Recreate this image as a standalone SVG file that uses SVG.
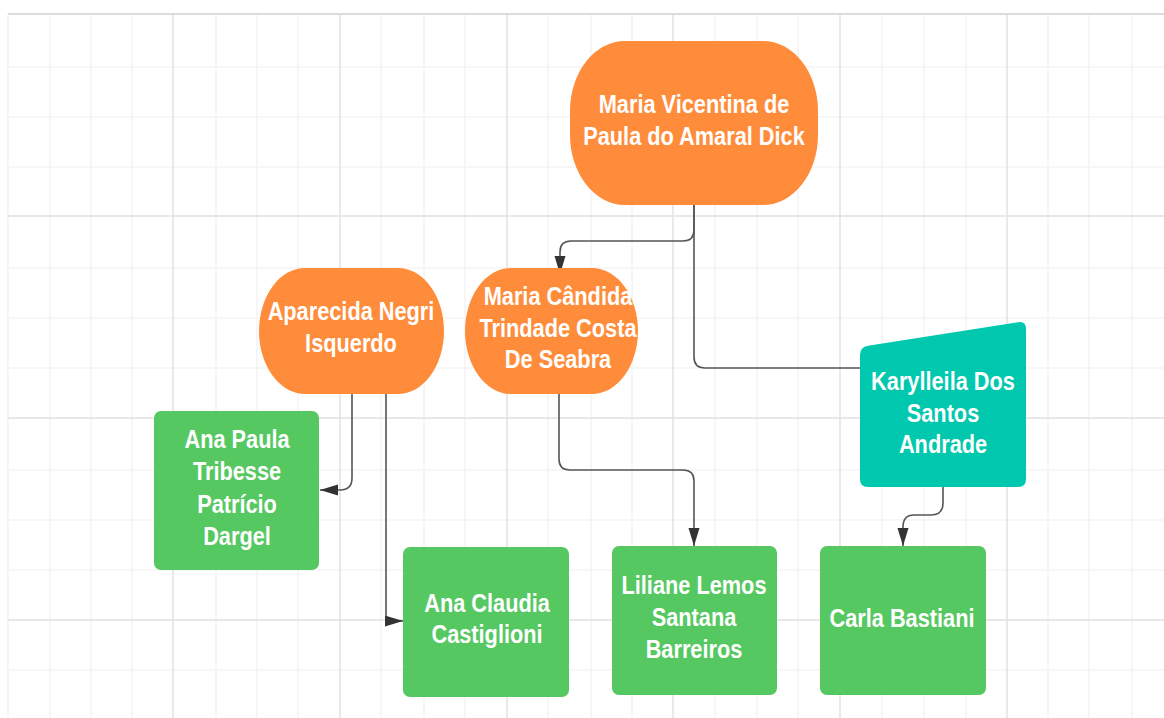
<svg xmlns="http://www.w3.org/2000/svg" width="1164" height="718" viewBox="0 0 1164 718">
<defs>
<style>
.minor{stroke:#f0f0f0;stroke-width:1.2}
.major{stroke:#e0e0e0;stroke-width:1.4}
.orange{fill:#FF8C3A}
.green{fill:#55C861}
.teal{fill:#00C8AE}
.conn{fill:none;stroke:#555;stroke-width:1.6}
.lbl{font-family:"Liberation Sans",Arial,sans-serif;font-weight:bold;font-size:25px;fill:#ffffff;text-anchor:middle}
</style>
<marker id="arrow" markerUnits="userSpaceOnUse" markerWidth="18" markerHeight="12" refX="18" refY="5.5" orient="auto">
<path d="M0,0 L18,5.5 L0,11 Z" fill="#333"/>
</marker>
</defs>
<rect x="0" y="0" width="1164" height="718" fill="#ffffff"/>
<g id="grid">
<g class="minor">
<line x1="8" y1="14" x2="8" y2="718"/>
<line x1="50" y1="14" x2="50" y2="718"/>
<line x1="91" y1="14" x2="91" y2="718"/>
<line x1="132" y1="14" x2="132" y2="718"/>
<line x1="216" y1="14" x2="216" y2="718"/>
<line x1="257" y1="14" x2="257" y2="718"/>
<line x1="298" y1="14" x2="298" y2="718"/>
<line x1="381" y1="14" x2="381" y2="718"/>
<line x1="424" y1="14" x2="424" y2="718"/>
<line x1="465" y1="14" x2="465" y2="718"/>
<line x1="548" y1="14" x2="548" y2="718"/>
<line x1="591" y1="14" x2="591" y2="718"/>
<line x1="632" y1="14" x2="632" y2="718"/>
<line x1="715" y1="14" x2="715" y2="718"/>
<line x1="757" y1="14" x2="757" y2="718"/>
<line x1="798" y1="14" x2="798" y2="718"/>
<line x1="882" y1="14" x2="882" y2="718"/>
<line x1="924" y1="14" x2="924" y2="718"/>
<line x1="966" y1="14" x2="966" y2="718"/>
<line x1="1048" y1="14" x2="1048" y2="718"/>
<line x1="1089" y1="14" x2="1089" y2="718"/>
<line x1="1132" y1="14" x2="1132" y2="718"/>
<line x1="8" y1="67" x2="1164" y2="67"/>
<line x1="8" y1="117" x2="1164" y2="117"/>
<line x1="8" y1="167" x2="1164" y2="167"/>
<line x1="8" y1="268" x2="1164" y2="268"/>
<line x1="8" y1="318" x2="1164" y2="318"/>
<line x1="8" y1="368" x2="1164" y2="368"/>
<line x1="8" y1="470" x2="1164" y2="470"/>
<line x1="8" y1="520" x2="1164" y2="520"/>
<line x1="8" y1="570" x2="1164" y2="570"/>
<line x1="8" y1="670" x2="1164" y2="670"/>
</g>
<g class="major">
<line x1="173" y1="14" x2="173" y2="718"/>
<line x1="340" y1="14" x2="340" y2="718"/>
<line x1="507" y1="14" x2="507" y2="718"/>
<line x1="673" y1="14" x2="673" y2="718"/>
<line x1="840" y1="14" x2="840" y2="718"/>
<line x1="1007" y1="14" x2="1007" y2="718"/>
<line x1="8" y1="216" x2="1164" y2="216"/>
<line x1="8" y1="418" x2="1164" y2="418"/>
<line x1="8" y1="620" x2="1164" y2="620"/>
</g>
<line x1="8" y1="14" x2="1164" y2="14" stroke="#dcdcdc" stroke-width="2"/>
</g>
<g id="connectors">
<path class="conn" d="M694,205 V230 Q694,241 683,241 H571 Q560,241 560,252 V274" marker-end="url(#arrow)"/>
<path class="conn" d="M694,205 V357 Q694,368 705,368 H860"/>
<path class="conn" d="M352,394 V478 Q352,490 340,490 H320" marker-end="url(#arrow)"/>
<path class="conn" d="M386,394 V621 H403" marker-end="url(#arrow)"/>
<path class="conn" d="M559,394 V459 Q559,470 570,470 H683 Q694,470 694,481 V546" marker-end="url(#arrow)"/>
<path class="conn" d="M943,487 V503 Q943,515 931,515 H914 Q903,515 903,527 V546" marker-end="url(#arrow)"/>
</g>
<g id="node-vicentina">
<rect class="orange" x="570" y="41" width="248" height="164" rx="55" ry="70"/>
<text class="lbl" transform="translate(694 0) scale(0.87 1)"><tspan x="0" y="113">Maria Vicentina de</tspan><tspan x="0" y="145">Paula do Amaral Dick</tspan></text>
</g>
<g id="node-aparecida">
<rect class="orange" x="259" y="268" width="185" height="126" rx="46" ry="63"/>
<text class="lbl" transform="translate(351 0) scale(0.87 1)"><tspan x="0" y="320">Aparecida Negri</tspan><tspan x="0" y="352">Isquerdo</tspan></text>
</g>
<g id="node-candida">
<rect class="orange" x="465" y="268" width="173" height="126" rx="46" ry="63"/>
<text class="lbl" transform="translate(558 0) scale(0.87 1)"><tspan x="0" y="305">Maria Cândida</tspan><tspan x="0" y="337">Trindade Costa</tspan><tspan x="0" y="368">De Seabra</tspan></text>
</g>
<g id="node-karylleila">
<path class="teal" d="M868,345.7 L1018,322.3 Q1026,321 1026,329 V479 Q1026,487 1018,487 H868 Q860,487 860,479 V355 Q860,347 868,345.7 Z"/>
<text class="lbl" transform="translate(943 0) scale(0.87 1)"><tspan x="0" y="390">Karylleila Dos</tspan><tspan x="0" y="422">Santos</tspan><tspan x="0" y="453">Andrade</tspan></text>
</g>
<g id="node-anapaula">
<rect class="green" x="154" y="411" width="165" height="159" rx="7"/>
<text class="lbl" transform="translate(237 0) scale(0.87 1)"><tspan x="0" y="448">Ana Paula</tspan><tspan x="0" y="480">Tribesse</tspan><tspan x="0" y="513">Patrício</tspan><tspan x="0" y="545">Dargel</tspan></text>
</g>
<g id="node-anaclaudia">
<rect class="green" x="403" y="547" width="166" height="150" rx="7"/>
<text class="lbl" transform="translate(487 0) scale(0.87 1)"><tspan x="0" y="612">Ana Claudia</tspan><tspan x="0" y="643">Castiglioni</tspan></text>
</g>
<g id="node-liliane">
<rect class="green" x="612" y="546" width="165" height="149" rx="7"/>
<text class="lbl" transform="translate(694 0) scale(0.87 1)"><tspan x="0" y="594">Liliane Lemos</tspan><tspan x="0" y="626">Santana</tspan><tspan x="0" y="658">Barreiros</tspan></text>
</g>
<g id="node-carla">
<rect class="green" x="820" y="546" width="166" height="149" rx="7"/>
<text class="lbl" transform="translate(902 0) scale(0.87 1)"><tspan x="0" y="627">Carla Bastiani</tspan></text>
</g>
</svg>
